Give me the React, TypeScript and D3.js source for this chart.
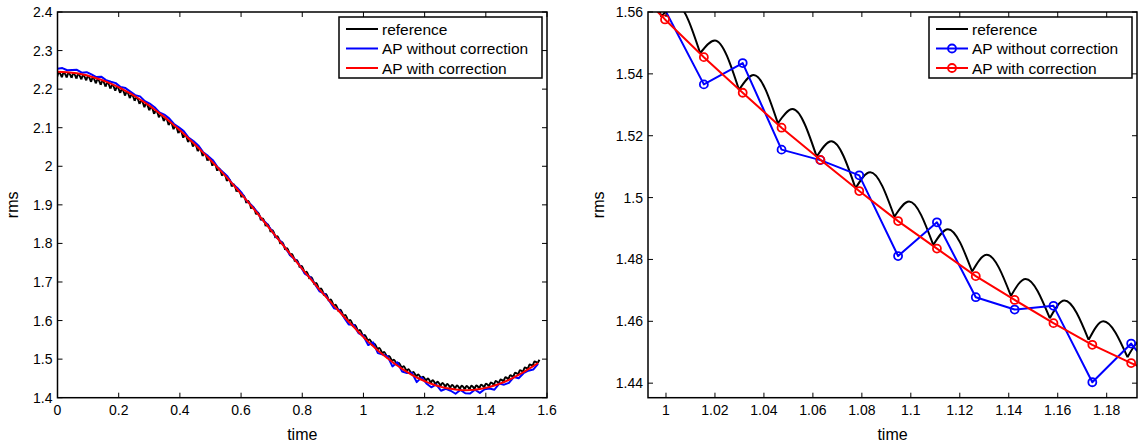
import React from "react";
import * as d3 from "d3";

// sample spacing of the AP outputs (100 samples from 0 to pi/2)
const SAMPLE_STEP = Math.PI / 198;
// position of the reference curve's trough / peak inside each sample period
const TROUGH_SHIFT = -0.0015;
const PEAK_SHIFT = 0.0045;

const apCorrected = [
  2.2450, 2.2447, 2.2440, 2.2427, 2.2410, 2.2387, 2.2359, 2.2322, 2.2283, 2.2243,
  2.2195, 2.2141, 2.2086, 2.2026, 2.1957, 2.1887, 2.1815, 2.1732, 2.1650, 2.1566,
  2.1471, 2.1376, 2.1281, 2.1173, 2.1066, 2.0958, 2.0841, 2.0722, 2.0603, 2.0480,
  2.0355, 2.0229, 2.0099, 1.9964, 1.9830, 1.9692, 1.9548, 1.9405, 1.9260, 1.9109,
  1.8959, 1.8808, 1.8652, 1.8497, 1.8341, 1.8184, 1.8027, 1.7870, 1.7714, 1.7559,
  1.7403, 1.7251, 1.7101, 1.6952, 1.6804, 1.6661, 1.6517, 1.6375, 1.6240, 1.6104,
  1.5970, 1.5840, 1.5705, 1.5576, 1.5454, 1.5339, 1.5226, 1.5122, 1.5021, 1.4924,
  1.4835, 1.4746, 1.4669, 1.4594, 1.4524, 1.4465, 1.4409, 1.4360, 1.4317, 1.4281,
  1.4253, 1.4230, 1.4212, 1.4201, 1.4195, 1.4197, 1.4207, 1.4224, 1.4248, 1.4278,
  1.4316, 1.4357, 1.4408, 1.4464, 1.4524, 1.4593, 1.4665, 1.4741, 1.4819, 1.4899,
];

const apUncorrected = [
  2.2530, 2.2547, 2.2490, 2.2497, 2.2500, 2.2427, 2.2439, 2.2382, 2.2313, 2.2323,
  2.2235, 2.2191, 2.2156, 2.2056, 2.2027, 2.1937, 2.1845, 2.1812, 2.1690, 2.1626,
  2.1531, 2.1396, 2.1341, 2.1243, 2.1096, 2.1008, 2.0911, 2.0742, 2.0653, 2.0540,
  2.0365, 2.0269, 2.0159, 1.9974, 1.9860, 1.9742, 1.9548, 1.9445, 1.9300, 1.9099,
  1.8989, 1.8838, 1.8632, 1.8527, 1.8361, 1.8164, 1.8057, 1.7870, 1.7684, 1.7579,
  1.7413, 1.7211, 1.7131, 1.6952, 1.6754, 1.6691, 1.6507, 1.6315, 1.6280, 1.6084,
  1.5900, 1.5890, 1.5675, 1.5607, 1.5366, 1.5435, 1.5155, 1.5121, 1.5072, 1.4811,
  1.4920, 1.4678, 1.4638, 1.4650, 1.4403, 1.4528, 1.4369, 1.4270, 1.4347, 1.4181,
  1.4233, 1.4180, 1.4102, 1.4201, 1.4115, 1.4107, 1.4207, 1.4124, 1.4218, 1.4238,
  1.4206, 1.4367, 1.4338, 1.4384, 1.4534, 1.4503, 1.4635, 1.4701, 1.4729, 1.4879,
];

const refTrough = [
  2.2310, 2.2307, 2.2301, 2.2289, 2.2273, 2.2251, 2.2224, 2.2188, 2.2150, 2.2111,
  2.2065, 2.2012, 2.1959, 2.1901, 2.1833, 2.1765, 2.1695, 2.1614, 2.1534, 2.1452,
  2.1359, 2.1266, 2.1173, 2.1068, 2.0963, 2.0858, 2.0743, 2.0627, 2.0510, 2.0390,
  2.0268, 2.0145, 2.0017, 1.9885, 1.9754, 1.9619, 1.9478, 1.9338, 1.9196, 1.9048,
  1.8901, 1.8754, 1.8601, 1.8448, 1.8296, 1.8142, 1.7988, 1.7834, 1.7681, 1.7529,
  1.7376, 1.7227, 1.7079, 1.6933, 1.6788, 1.6648, 1.6506, 1.6366, 1.6234, 1.6100,
  1.5968, 1.5841, 1.5708, 1.5585, 1.5467, 1.5348, 1.5240, 1.5132, 1.5030, 1.4938,
  1.4847, 1.4761, 1.4682, 1.4610, 1.4540, 1.4484, 1.4430, 1.4381, 1.4338, 1.4302,
  1.4274, 1.4250, 1.4232, 1.4221, 1.4214, 1.4216, 1.4226, 1.4241, 1.4264, 1.4293,
  1.4330, 1.4370, 1.4419, 1.4473, 1.4532, 1.4599, 1.4669, 1.4744, 1.4820, 1.4897,
];

const refPeak = [
  2.2430, 2.2426, 2.2417, 2.2403, 2.2385, 2.2361, 2.2332, 2.2294, 2.2254, 2.2213,
  2.2165, 2.2110, 2.2055, 2.1994, 2.1925, 2.1854, 2.1783, 2.1700, 2.1618, 2.1534,
  2.1440, 2.1345, 2.1250, 2.1143, 2.1037, 2.0929, 2.0813, 2.0695, 2.0577, 2.0455,
  2.0332, 2.0207, 2.0079, 1.9944, 1.9811, 1.9674, 1.9532, 1.9391, 1.9247, 1.9098,
  1.8950, 1.8800, 1.8647, 1.8494, 1.8340, 1.8185, 1.8031, 1.7876, 1.7723, 1.7570,
  1.7417, 1.7268, 1.7121, 1.6975, 1.6830, 1.6690, 1.6549, 1.6410, 1.6278, 1.6145,
  1.6013, 1.5886, 1.5753, 1.5625, 1.5508, 1.5396, 1.5286, 1.5182, 1.5082, 1.4987,
  1.4898, 1.4815, 1.4737, 1.4667, 1.4600, 1.4540, 1.4499, 1.4452, 1.4411, 1.4379,
  1.4353, 1.4332, 1.4317, 1.4308, 1.4304, 1.4308, 1.4318, 1.4337, 1.4362, 1.4394,
  1.4433, 1.4475, 1.4527, 1.4584, 1.4644, 1.4714, 1.4786, 1.4862, 1.4940, 1.4985,
];

const seriesNames = ["reference", "AP without correction", "AP with correction"];
const seriesColors = ["#000000", "#0000ff", "#ff0000"];

const leftXTicks = [0, 0.2, 0.4, 0.6, 0.8, 1, 1.2, 1.4, 1.6];
const leftYTicks = [1.4, 1.5, 1.6, 1.7, 1.8, 1.9, 2, 2.1, 2.2, 2.3, 2.4];
const rightXTicks = [1, 1.02, 1.04, 1.06, 1.08, 1.1, 1.12, 1.14, 1.16, 1.18];
const rightYTicks = [1.44, 1.46, 1.48, 1.5, 1.52, 1.54, 1.56];

const leftXDomain: [number, number] = [0, 1.6];
const leftYDomain: [number, number] = [1.4, 2.4];
const rightXDomain: [number, number] = [0.99265, 1.19238];
const rightYDomain: [number, number] = [1.4353, 1.56];

const FONT = "'Liberation Sans', Arial, Helvetica, sans-serif";
const fmt = (v: number) => String(Math.round(v * 100) / 100);

type PanelProps = {
  id: string;
  left: number;
  right: number;
  top: number;
  bottom: number;
  xDomain: [number, number];
  yDomain: [number, number];
  xTicks: number[];
  yTicks: number[];
  markers: boolean;
  legendX: number;
  ylabelX: number;
};

function Panel(p: PanelProps) {
  const x = d3.scaleLinear().domain(p.xDomain).range([p.left, p.right]);
  const y = d3.scaleLinear().domain(p.yDomain).range([p.bottom, p.top]);
  const n = apCorrected.length;
  const times = apCorrected.map((_, i) => i * SAMPLE_STEP);

  const line = d3
    .line<[number, number]>()
    .x((d) => x(d[0]))
    .y((d) => y(d[1]));
  const hump = d3
    .line<[number, number]>()
    .x((d) => x(d[0]))
    .y((d) => y(d[1]))
    .curve(d3.curveMonotoneX);

  let refPath = "";
  for (let k = 0; k < n; k++) {
    const pts: [number, number][] = [
      [times[k] + TROUGH_SHIFT, refTrough[k]],
      [times[k] + PEAK_SHIFT, refPeak[k]],
    ];
    if (k + 1 < n) pts.push([times[k + 1] + TROUGH_SHIFT, refTrough[k + 1]]);
    refPath += hump(pts) || "";
  }

  const bluePts: [number, number][] = times.map((t, i) => [t, apUncorrected[i]]);
  const redPts: [number, number][] = times.map((t, i) => [t, apCorrected[i]]);
  const inside = (d: [number, number]) =>
    d[0] >= p.xDomain[0] && d[0] <= p.xDomain[1] && d[1] >= p.yDomain[0] && d[1] <= p.yDomain[1];

  const tick = 5;
  const w = p.right - p.left;
  const h = p.bottom - p.top;
  const lg = { x: p.legendX, y: 17, w: 203, h: 61 };
  const rows = [29, 48.5, 68];

  return (
    <g>
      <defs>
        <clipPath id={`clip-${p.id}`}>
          <rect x={p.left} y={p.top} width={w} height={h} />
        </clipPath>
      </defs>
      <rect x={p.left} y={p.top} width={w} height={h} fill="#fff" />
      <g clipPath={`url(#clip-${p.id})`} fill="none" strokeLinejoin="round">
        <path d={refPath} stroke={seriesColors[0]} strokeWidth={2} />
        <path d={line(bluePts) || ""} stroke={seriesColors[1]} strokeWidth={2} />
        {p.markers &&
          bluePts.filter(inside).map((d, i) => (
            <circle key={`b${i}`} cx={x(d[0])} cy={y(d[1])} r={4} stroke={seriesColors[1]} strokeWidth={1.8} />
          ))}
        <path d={line(redPts) || ""} stroke={seriesColors[2]} strokeWidth={2} />
        {p.markers &&
          redPts.filter(inside).map((d, i) => (
            <circle key={`r${i}`} cx={x(d[0])} cy={y(d[1])} r={4} stroke={seriesColors[2]} strokeWidth={1.8} />
          ))}
      </g>
      {/* ticks */}
      <g stroke="#000" strokeWidth={1}>
        {p.xTicks.map((t) => (
          <g key={`xt${t}`}>
            <line x1={x(t)} x2={x(t)} y1={p.bottom} y2={p.bottom - tick} />
            <line x1={x(t)} x2={x(t)} y1={p.top} y2={p.top + tick} />
          </g>
        ))}
        {p.yTicks.map((t) => (
          <g key={`yt${t}`}>
            <line x1={p.left} x2={p.left + tick} y1={y(t)} y2={y(t)} />
            <line x1={p.right} x2={p.right - tick} y1={y(t)} y2={y(t)} />
          </g>
        ))}
      </g>
      <rect x={p.left} y={p.top} width={w} height={h} fill="none" stroke="#000" strokeWidth={1.5} />
      <g fontFamily={FONT} fontSize={14} fill="#000">
        {p.xTicks.map((t) => (
          <text key={`xl${t}`} x={x(t)} y={p.bottom + 17.5} textAnchor="middle">
            {fmt(t)}
          </text>
        ))}
        {p.yTicks.map((t) => (
          <text key={`yl${t}`} x={p.left - 5} y={y(t) + 5} textAnchor="end">
            {fmt(t)}
          </text>
        ))}
      </g>
      <text x={(p.left + p.right) / 2} y={439.5} textAnchor="middle" fontFamily={FONT} fontSize={16}>
        time
      </text>
      <text
        transform={`translate(${p.ylabelX},${(p.top + p.bottom) / 2}) rotate(-90)`}
        textAnchor="middle"
        fontFamily={FONT}
        fontSize={16}
      >
        rms
      </text>
      {/* legend */}
      <g>
        <rect x={lg.x} y={lg.y} width={lg.w} height={lg.h} fill="#fff" stroke="#000" strokeWidth={1.5} />
        {seriesNames.map((name, i) => (
          <g key={name}>
            <line x1={lg.x + 7} x2={lg.x + 39} y1={rows[i]} y2={rows[i]} stroke={seriesColors[i]} strokeWidth={2} />
            {p.markers && i > 0 && (
              <circle cx={lg.x + 23} cy={rows[i]} r={4} fill="none" stroke={seriesColors[i]} strokeWidth={1.8} />
            )}
            <text x={lg.x + 43} y={rows[i] + 5.5} fontFamily={FONT} fontSize={15.5}>
              {name}
            </text>
          </g>
        ))}
      </g>
    </g>
  );
}

export default function App() {
  return (
    <svg
      width={1144}
      height={445}
      style={{ position: "absolute", left: 0, top: 0, background: "#fff" }}
    >
      <rect x={0} y={0} width={1144} height={445} fill="#fff" />
      <Panel
        id="left"
        left={57.5}
        right={547}
        top={12}
        bottom={397.7}
        xDomain={leftXDomain}
        yDomain={leftYDomain}
        xTicks={leftXTicks}
        yTicks={leftYTicks}
        markers={false}
        legendX={339}
        ylabelX={18}
      />
      <Panel
        id="right"
        left={648}
        right={1137}
        top={12}
        bottom={397.7}
        xDomain={rightXDomain}
        yDomain={rightYDomain}
        xTicks={rightXTicks}
        yTicks={rightYTicks}
        markers={true}
        legendX={929}
        ylabelX={603.5}
      />
    </svg>
  );
}
